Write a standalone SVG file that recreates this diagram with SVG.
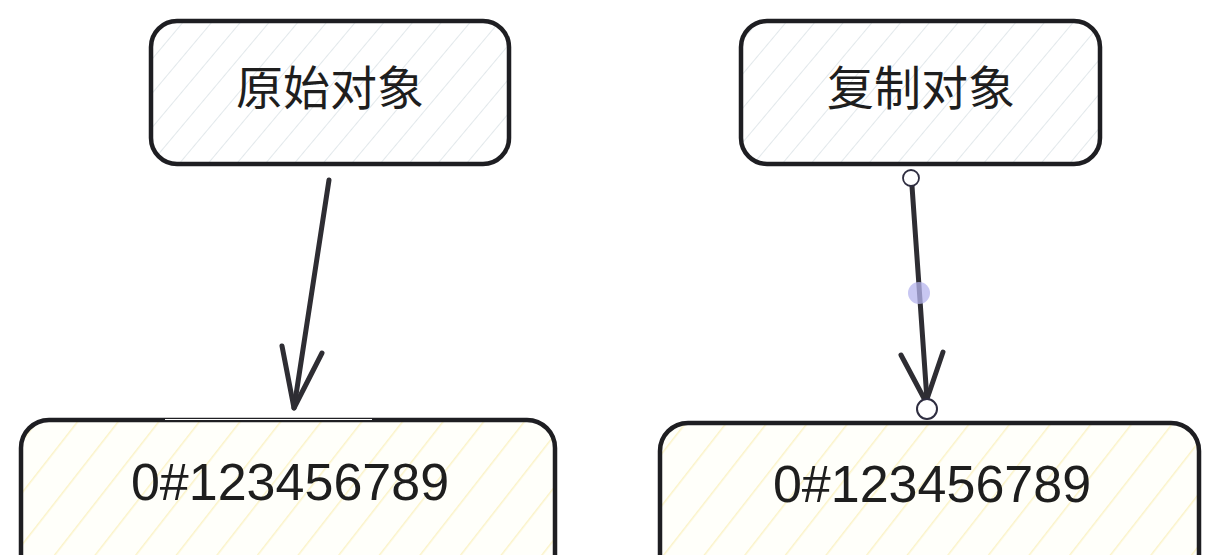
<svg xmlns="http://www.w3.org/2000/svg" width="1221" height="555" viewBox="0 0 1221 555">
<defs>
<pattern id="hatchGrey" patternUnits="userSpaceOnUse" width="22" height="22" patternTransform="rotate(40)">
<line x1="0" y1="0" x2="0" y2="22" stroke="#d2dbe0" stroke-width="1.3"/>
</pattern>
<pattern id="hatchYellow" patternUnits="userSpaceOnUse" width="32" height="32" patternTransform="rotate(38)">
<line x1="0" y1="0" x2="0" y2="32" stroke="#fbf3c8" stroke-width="3"/>
</pattern>
<style>
.box{stroke:#1e1e22;stroke-width:4.5;stroke-linejoin:round}
.top{fill:url(#hatchGrey)}
.bot{fill:url(#hatchYellow)}
.cn{font-family:"Noto Sans CJK SC","Noto Sans",sans-serif;font-size:47px;fill:#1e1e1e;text-anchor:middle}
.num{font-family:"Liberation Sans",sans-serif;font-size:52px;fill:#1e1e1e;text-anchor:middle}
.arr{stroke:#2e2d33;stroke-width:5;fill:none;stroke-linecap:round;stroke-linejoin:round}
</style>
</defs>
<rect width="1221" height="555" fill="#ffffff"/>
<g id="node-original">
<rect class="box top" x="151" y="21" width="358" height="143" rx="26"/>
<text class="cn" x="330" y="105">原始对象</text>
</g>
<g id="node-copy">
<rect class="box top" x="741" y="21" width="359" height="143" rx="26"/>
<text class="cn" x="921" y="105">复制对象</text>
</g>
<g id="node-value-left">
<rect x="21" y="420" width="534" height="170" rx="28" fill="#fffffa"/>
<rect class="box bot" x="21" y="420" width="534" height="170" rx="28"/>
<line x1="165" y1="419.5" x2="372" y2="419.5" stroke="#ffffff" stroke-width="1.2"/>
<text class="num" x="290" y="500">0#123456789</text>
</g>
<g id="node-value-right">
<rect x="660" y="423" width="539" height="170" rx="28" fill="#fffffa"/>
<rect class="box bot" x="660" y="423" width="539" height="170" rx="28"/>
<text class="num" x="932" y="502">0#123456789</text>
</g>
<g id="connectors">
<path class="arr" d="M329 180 L294 408"/>
<path class="arr" d="M282 346 L294 408 L322 353"/>
<path class="arr" d="M912 186 L927 400"/>
<path class="arr" d="M901 355 L926 402 L943 352"/>
<circle cx="911" cy="178" r="8" fill="#ffffff" stroke="#2e2d40" stroke-width="1.8"/>
<circle cx="919" cy="293" r="11" fill="#b6b4ee" opacity="0.75"/>
<circle cx="927" cy="409" r="10" fill="#ffffff" stroke="#2e2d40" stroke-width="2"/>
</g>
</svg>
